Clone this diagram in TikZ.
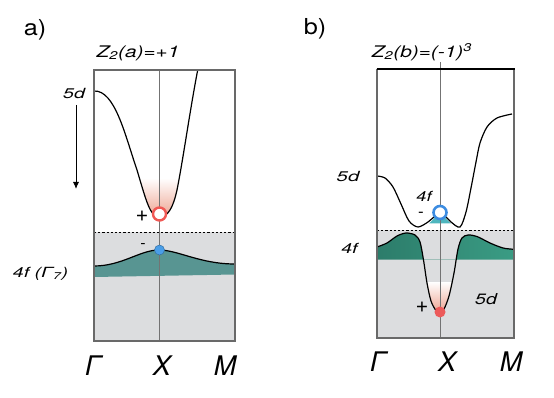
\documentclass[tikz,border=0pt]{standalone}
\usepackage{fontspec}
\setmainfont{TeX Gyre Heros}
\usetikzlibrary{arrows.meta}
\definecolor{bggray}{RGB}{220,221,223}
\definecolor{framegray}{RGB}{105,105,105}
\definecolor{tealA}{RGB}{88,149,146}
\definecolor{tealDark}{RGB}{44,124,106}
\definecolor{tealMid}{RGB}{58,156,132}
\definecolor{tealLight}{RGB}{78,182,190}
\definecolor{glow}{RGB}{236,158,138}
\definecolor{redring}{RGB}{240,88,84}
\definecolor{reddot}{RGB}{236,90,90}
\definecolor{bluedot}{RGB}{74,158,232}
\definecolor{bluering}{RGB}{60,140,225}
\newcommand\stretchtxt[2]{\scalebox{#1}[1]{#2}}
\begin{document}
\begin{tikzpicture}[x=1pt,y=-1pt,
  frame/.style={draw=framegray, line width=1.1},
  kline/.style={draw=black!55, line width=0.7},
  bandline/.style={draw=black, line width=1.2},
  dashline/.style={draw=black, line width=0.9, dash pattern=on 2.2pt off 2pt},
  panel/.style={font=\fontsize{22}{24}\selectfont, inner sep=0},
  lbl/.style={font=\itshape\fontsize{#1}{#1}\selectfont, inner sep=0},
  sign/.style={font=\fontsize{#1}{#1}\selectfont, inner sep=0},
  kpt/.style={font=\itshape\fontsize{27}{29}\selectfont, inner sep=0}
]
\path[use as bounding box] (0,0) rectangle (554,398);

% ================= panel a =================
\fill[bggray] (94,232) rectangle (235,341);
% teal band
\fill[tealA] (94,266) .. controls (122,266) and (140,250) .. (159,250)
   .. controls (178,250) and (200,264) .. (235,264) -- (235,274.5) -- (94,277) -- cycle;
% glow
\begin{scope}
  \clip (94,91) .. controls (115,90) and (125,135) .. (137,170)
     .. controls (146,200) and (150,217) .. (159,217)
     .. controls (168,217) and (173,208) .. (177,190)
     .. controls (183,160) and (190,110) .. (197.7,70) -- cycle;
  \shade[top color=white, bottom color=glow] (125,178) rectangle (195,220);
\end{scope}
% k line
\draw[kline] (159.5,70) -- (159.5,341);
% bands
\draw[bandline] (94,91) .. controls (115,90) and (125,135) .. (137,170)
     .. controls (146,200) and (150,217) .. (159,217)
     .. controls (168,217) and (173,208) .. (177,190)
     .. controls (183,160) and (190,110) .. (197.7,70);
\draw[bandline] (94,266) .. controls (122,266) and (140,250) .. (159,250)
   .. controls (178,250) and (200,264) .. (235,264);
\draw[dashline] (94,232) -- (235,232);
\draw[frame] (94,70) rectangle (235,341);
% points
\node[circle, draw=redring, fill=white, line width=2.4, minimum size=13pt, inner sep=0] (ra) at (159.5,214) {};
\node[circle, draw=bluedot!70!black, fill=bluedot, line width=0.5, minimum size=10pt, inner sep=0] (ba) at (159.5,250) {};
% labels a
\node[panel] (pa) at (35,30) {\stretchtxt{1.15}{a)}};
\node[lbl=16] (za) at (138,53) {\stretchtxt{1.3}{Z\textsubscript{2}(a)=+1}};
\node[lbl=14] (d5a) at (74,94) {\stretchtxt{1.4}{5d}};
\coordinate (arrs) at (76,105);
\coordinate (arre) at (76,189);
\draw[-{Latex[length=7pt,width=6pt]}, line width=0.9] (arrs) -- (arre);
\node[lbl=14] (f4a) at (40.5,274) {\stretchtxt{1.4}{4f (Γ\textsubscript{7})}};
\node[sign=22] (pla) at (142,216) {+};
\node[sign=16] (mia) at (143,246) {-};
\node[kpt] (ga) at (93,366) {Γ};
\node[kpt] (xa) at (162,366) {X};
\node[kpt] (ma) at (225,366) {M};

% ================= panel b =================
\fill[bggray] (377,230) rectangle (514,338);
% teal band b
\begin{scope}
  \clip (374,200) rectangle (516,259.5);
  \shade[left color=tealDark, right color=tealMid] (376,259.5) -- (376,247.3) -- plot[smooth] coordinates {
    (377,247) (387,243) (397,236) (406,233) (415,235) (420,242) (423.5,260) (427,283)
    (431,301) (436,310.5) (440,312) (444,309) (449,296) (454,273) (458,249) (462,238)
    (468,235) (477,236.5) (490,243) (503,248) (514,249.3)} -- (514,259.5) -- cycle;
\end{scope}
% small teal hump
\fill[tealLight] (429,223.5) .. controls (434,219) and (437,214.5) .. (440,214.5)
   .. controls (443,214.5) and (446,219) .. (451,223.5) -- cycle;
% glow b
\begin{scope}
  \clip plot[smooth] coordinates {
    (406,233) (415,235) (420,242) (423.5,260) (427,283)
    (431,301) (436,310.5) (440,312) (444,309) (449,296) (454,273) (458,249) (462,238)
    (468,235)} -- cycle;
  \shade[top color=white, bottom color=glow] (415,282) rectangle (465,314);
\end{scope}
\draw[kline] (440,62) -- (440,338);
\draw[bandline] plot[smooth] coordinates {
    (377,176) (385,178) (393,187) (401,204) (409,221) (418,227) (428,222) (434,217)
    (440,214.5) (446,217) (451,222) (460,227) (466,212) (471,188) (476,162) (480,143)
    (487,127) (497,118) (512,114)};
\draw[bandline] plot[smooth] coordinates {
    (377,247) (387,243) (397,236) (406,233) (415,235) (420,242) (423.5,260) (427,283)
    (431,301) (436,310.5) (440,312) (444,309) (449,296) (454,273) (458,249) (462,238)
    (468,235) (477,236.5) (490,243) (503,248) (514,249.3)};
\draw[dashline] (377,230) -- (514,230);
\draw[frame] (377,69) -- (377,338) -- (514,338) -- (514,69);
\draw[black, line width=1.1] (376.5,69) -- (514.5,69);
% points b
\node[circle, draw=bluering, fill=white, line width=2.6, minimum size=13pt, inner sep=0] (bb) at (440,212.5) {};
\node[circle, fill=reddot, minimum size=11pt, inner sep=0] (rb) at (440,312) {};
% labels b
\node[panel] (pb) at (315,29) {\stretchtxt{1.15}{b)}};
\node[lbl=16] (zb) at (422,52) {\stretchtxt{1.3}{Z\textsubscript{2}(b)=(-1)\textsuperscript{3}}};
\node[lbl=14] (d5b) at (348,177) {\stretchtxt{1.45}{5d}};
\node[lbl=14] (f4b) at (349.5,248) {\stretchtxt{1.4}{4f}};
\node[lbl=14] (f4c) at (424,196) {\stretchtxt{1.3}{4f}};
\node[lbl=15] (d5c) at (486,299.5) {\stretchtxt{1.3}{5d}};
\node[sign=17] (mib) at (421,214.5) {-};
\node[sign=22] (plb) at (422,307) {+};
\node[kpt] (gb) at (378,362) {Γ};
\node[kpt] (xb) at (447,362) {X};
\node[kpt] (mb) at (511,362) {M};
\end{tikzpicture}
\end{document}
